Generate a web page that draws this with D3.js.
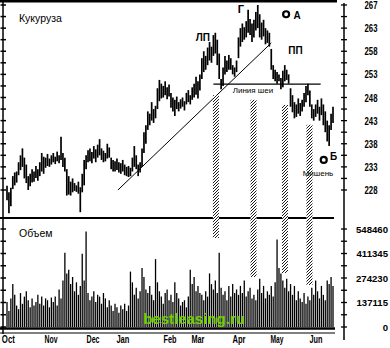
<!DOCTYPE html>
<html><head><meta charset="utf-8">
<script src="https://cdn.jsdelivr.net/npm/d3@7"></script>
<style>
body{margin:0;background:#fff}
svg{display:block}
text{font-family:"Liberation Sans","DejaVu Sans",sans-serif;fill:#000}
.tick{font-family:"Liberation Sans Narrow","Liberation Sans",sans-serif;font-weight:bold;font-size:11px}
</style></head><body>
<svg id="chart" width="390" height="348"></svg>
<script>
// daily high / low, corn futures
const hi = [228.9,227.5,228.5,231.0,231.8,232.0,234.0,235.5,237.0,235.0,
  233.5,231.0,231.5,232.5,232.0,233.2,232.5,234.0,236.0,235.2,
  235.0,235.8,234.8,235.5,236.0,235.2,236.3,235.5,239.5,236.0,
  235.0,232.5,231.0,229.8,230.5,229.5,229.0,229.8,228.6,231.5,
  234.5,235.5,236.6,237.0,236.2,237.5,236.8,237.8,239.0,237.0,
  236.5,236.0,238.0,237.2,235.0,234.5,234.2,234.8,234.0,233.8,
  234.5,233.5,233.0,233.2,232.8,235.0,237.5,235.5,233.5,234.0,
  237.0,240.5,242.0,245.0,244.5,247.0,245.5,246.2,250.0,251.8,
  251.0,250.5,251.5,250.2,250.8,249.0,248.0,247.5,248.2,247.0,
  247.6,248.0,247.2,249.0,249.6,248.5,250.2,251.0,252.5,251.5,
  253.0,256.5,258.0,257.0,258.8,260.0,259.0,261.5,262.0,260.5,
  257.5,252.0,254.5,257.0,256.0,257.2,256.5,255.0,254.5,256.0,
  261.0,263.0,264.0,263.2,264.5,267.0,265.0,264.0,264.8,266.5,
  268.0,266.0,264.2,264.8,263.0,262.5,262.0,258.5,255.0,254.0,
  253.5,253.0,252.2,253.8,255.0,254.0,253.0,250.0,248.5,247.0,
  246.5,247.8,246.8,247.5,249.0,250.5,251.0,249.5,246.5,245.5,
  246.5,247.5,246.0,247.8,246.5,245.0,243.0,242.0,244.5,246.0];
const lo = [225.8,223.0,224.5,228.2,229.0,229.6,231.2,232.3,233.0,230.5,
  229.5,228.0,228.8,229.6,229.8,230.6,230.0,231.0,232.0,231.5,
  232.8,233.2,233.0,233.5,234.0,233.6,234.2,233.8,234.5,233.0,
  232.0,226.8,227.0,226.8,227.5,227.8,227.6,227.2,223.2,227.5,
  229.0,232.5,234.0,234.2,233.8,234.8,234.0,235.0,235.5,234.5,
  234.0,234.2,234.8,235.0,232.5,232.0,232.0,232.3,231.8,231.5,
  232.0,231.2,231.0,230.8,231.0,232.0,233.0,232.5,231.0,231.8,
  233.0,236.0,238.0,241.0,242.0,243.0,242.5,243.5,245.5,247.2,
  247.8,248.0,248.5,247.6,248.2,245.8,245.0,244.0,245.5,245.0,
  245.6,246.0,245.2,246.5,247.0,246.5,247.5,248.0,248.6,247.8,
  249.5,252.0,253.5,254.0,255.0,256.0,255.5,257.0,257.5,255.0,
  252.0,249.8,250.5,253.0,253.5,254.0,254.0,253.0,252.5,253.5,
  256.5,259.0,260.0,260.5,261.0,262.0,261.5,260.0,261.0,262.5,
  263.0,261.0,260.5,261.2,259.5,259.8,259.0,254.0,252.0,251.5,
  251.0,251.5,249.8,250.2,251.5,251.8,251.0,246.0,244.8,243.5,
  243.8,244.5,244.0,245.0,246.0,247.0,248.5,246.0,243.5,243.0,
  243.8,244.5,243.0,244.2,242.0,240.5,238.5,237.5,241.0,242.5];
// daily volume, thousands of contracts
const vol = [140,90,160, 240,180, 120,100, 190,130,170, 200,150,110,
  160,120,140, 180,130, 170,120,160, 150,110,165, 140,170,120,
  210,160,260, 415,300, 320,240, 280,200,250, 180,230, 410,260, 535,
  190,150,170, 200,140,180, 170,130,190, 160,110,150, 120,90,130,
  110,80,120, 100,130,90, 120,310, 250,180,220, 160,200,330,
  280,210,190, 230,180,150, 380,250,200, 170,130,190, 210,150,180,
  140,250,190, 160,120,140, 150,110,170, 320,240,280, 200,230,190,
  180,150,200, 170,300,240, 210,260,190, 415,220,180, 200,150,230,
  170,240,190, 210,180,230, 190,260,170, 200,220,160, 180,150,210,
  270,190,230, 160,200,180, 230,170,250, 490,330, 300,260,220,
  270,200,240, 180,230,150, 200,160,140, 190,130,170, 150,220,180,
  260,200,160, 230,180,150, 260,240,280,230];

const months = ["Oct","Nov","Dec","Jan","Feb","Mar","Apr","May","Jun"];
const monthIdx = [0.7, 22.8, 44.6, 60.1, 84.5, 99, 120.3, 140, 160.2];
const priceTicks = [228,233,238,243,248,253,258,263,268];
const priceLabels = ["228","233","238","243","248","253","258","263","267"];
const volTicks = [0,137115,274230,411345,548460];
const volLabels = ["0","137115","274230","411345","548460"];

const trendLine = [[57.5,228],[137,259.8]];
const neckLine = [[107,250.9],[162.6,250.9]];
// hatched strips: index centre, top price, bottom volume
const strips = [[108.3,248.5,498000],[127.8,247.5,280000],[144.1,246.4,302000],[156.8,242.1,235000]];

const svg = d3.select("#chart");
const x = d3.scaleLinear().domain([0, hi.length - 1]).range([7, 333]);
const yP = d3.scaleLinear().domain([228, 268]).range([190, 5]);
const yV = d3.scaleLinear().domain([0, 548460]).range([327, 229]);

const defs = svg.append("defs");
defs.append("pattern").attr("id","hatch").attr("patternUnits","userSpaceOnUse")
  .attr("width",3).attr("height",3)
  .append("path").attr("d","M-1,1 L1,-1 M0,3 L3,0 M2,4 L4,2")
  .attr("stroke","#000").attr("stroke-width",0.9);

// frame lines
const hline = (y, x0, x1, w) => svg.append("line").attr("x1",x0).attr("x2",x1)
  .attr("y1",y).attr("y2",y).attr("stroke","#000").attr("stroke-width",w);
hline(1.2, 0, 337, 2.5);
hline(218, 0, 334, 2);
hline(328.5, 0, 335, 2.5);
hline(333, 0, 335, 1);

// left axis
svg.append("line").attr("x1",3).attr("x2",3).attr("y1",0).attr("y2",334)
  .attr("stroke","#000").attr("stroke-width",1.5);
svg.selectAll(".lt").data(d3.range(228, 268.1, 2.5)).join("line")
  .attr("x1",0.5).attr("x2",6).attr("y1",d=>yP(d)).attr("y2",d=>yP(d))
  .attr("stroke","#000").attr("stroke-width",1.5);
svg.selectAll(".lv").data(d3.range(0, 548461, 548460/8)).join("line")
  .attr("x1",0.5).attr("x2",6).attr("y1",d=>yV(d)).attr("y2",d=>yV(d))
  .attr("stroke","#000").attr("stroke-width",1.5);

// right axis
svg.append("line").attr("x1",344).attr("x2",344).attr("y1",3).attr("y2",340)
  .attr("stroke","#000").attr("stroke-width",1.5);
svg.append("g").selectAll("line").data(d3.range(228, 268.1, 2.5)).join("line")
  .attr("x1",341).attr("x2",347).attr("y1",d=>yP(d)).attr("y2",d=>yP(d))
  .attr("stroke","#000").attr("stroke-width",1.3);
svg.append("g").selectAll("line").data(d3.range(0, 548461, 548460/8)).join("line")
  .attr("x1",341).attr("x2",347).attr("y1",d=>yV(d)).attr("y2",d=>yV(d))
  .attr("stroke","#000").attr("stroke-width",1.3);

svg.append("g").selectAll("text").data(priceTicks).join("text")
  .attr("class","tick").attr("x",371).attr("y",d=>yP(d)+4)
  .attr("text-anchor","middle").attr("textLength",13).attr("lengthAdjust","spacingAndGlyphs")
  .text((d,i)=>priceLabels[i]);
svg.append("g").selectAll("text").data(volTicks).join("text")
  .attr("class","tick").attr("x",388).attr("y",d=>yV(d)+3.5)
  .attr("text-anchor","end").style("font-size","9.6px")
  .text((d,i)=>volLabels[i]);

// month labels
svg.append("g").selectAll("text").data(months).join("text")
  .attr("class","tick").attr("x",(d,i)=>x(monthIdx[i])).attr("y",343)
  .attr("text-anchor","middle").attr("textLength",13).attr("lengthAdjust","spacingAndGlyphs")
  .text(d=>d);

// price bars
svg.append("g").selectAll("line").data(hi).join("line")
  .attr("x1",(d,i)=>x(i)).attr("x2",(d,i)=>x(i))
  .attr("y1",d=>yP(d)).attr("y2",(d,i)=>yP(lo[i]))
  .attr("stroke","#000").attr("stroke-width",1.7);

// volume bars
svg.append("g").selectAll("line").data(vol).join("line")
  .attr("x1",(d,i)=>x(i)).attr("x2",(d,i)=>x(i))
  .attr("y1",yV(0)).attr("y2",d=>yV(d*1000))
  .attr("stroke","#000").attr("stroke-width",1.3);

// trend and neck lines
const line = d3.line().x(d=>x(d[0])).y(d=>yP(d[1]));
svg.append("path").attr("d",line(trendLine)).attr("stroke","#000").attr("stroke-width",1).attr("fill","none");
svg.append("path").attr("d",line(neckLine)).attr("stroke","#000").attr("stroke-width",1.3).attr("fill","none");

// hatched strips
const sg = svg.append("g").selectAll("g").data(strips).join("g");
sg.append("rect").attr("x",d=>x(d[0])-3).attr("width",6)
  .attr("y",d=>yP(d[1])).attr("height",d=>yV(d[2])-yP(d[1])).attr("fill","#fff");
sg.append("rect").attr("x",d=>x(d[0])-3).attr("width",6)
  .attr("y",d=>yP(d[1])).attr("height",d=>yV(d[2])-yP(d[1])).attr("fill","url(#hatch)");

// labels
const label = (t, px, py, size, weight, anchor) => svg.append("text").attr("x",px).attr("y",py)
  .attr("font-size",size).attr("font-weight",weight||"normal")
  .attr("text-anchor",anchor||"start").text(t);
label("Кукуруза", 19, 22, 10.5);
label("Объем", 19, 237, 10.5);
label("ЛП", x(101.5), yP(260.3), 10, "bold", "middle");
label("Г", x(121.3), yP(266.2), 11, "bold", "middle");
label("ПП", x(149.5), yP(257.3), 10, "bold", "middle");
label("Линия шеи", x(127.5), yP(248.9), 8, "normal", "middle");
label("А", x(148.5), yP(265), 10, "bold", "start");
label("Б", x(167.5), yP(234.5), 10, "bold", "start");
label("Мишень", x(161.2), yP(231), 8, "normal", "middle");
svg.append("circle").attr("cx",x(144.7)).attr("cy",yP(266)).attr("r",3)
  .attr("fill","none").attr("stroke","#000").attr("stroke-width",2.2);
svg.append("circle").attr("cx",x(164.2)).attr("cy",yP(234.5)).attr("r",3)
  .attr("fill","none").attr("stroke","#000").attr("stroke-width",2.2);

// watermark
svg.append("text").attr("x",194).attr("y",324).attr("text-anchor","middle")
  .attr("font-size",15).attr("font-weight","bold").style("fill","#6fd000")
  .text("bestleasing.ru");
</script>
</body></html>
